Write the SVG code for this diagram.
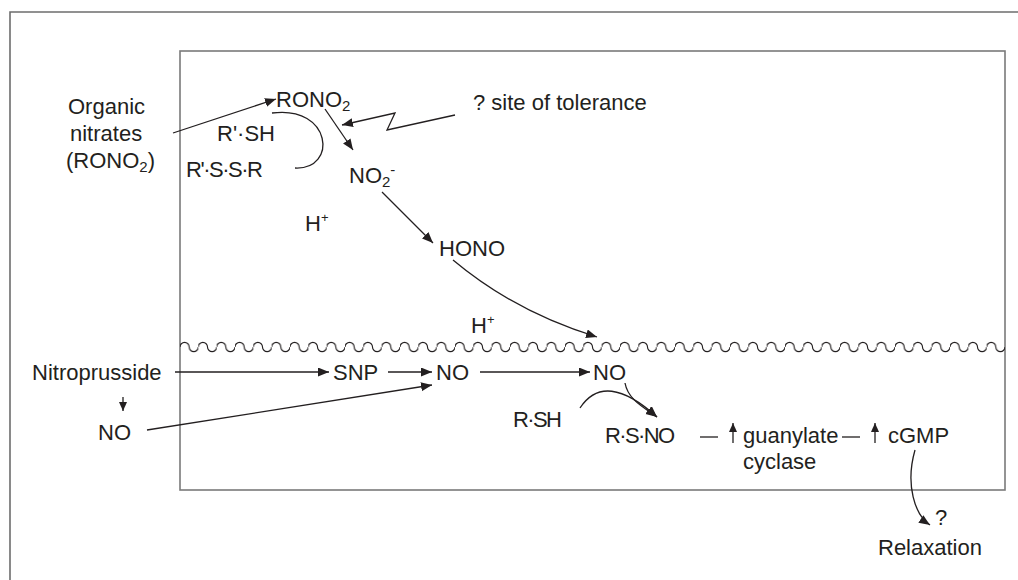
<svg xmlns="http://www.w3.org/2000/svg" width="1018" height="580" viewBox="0 0 1018 580">
<defs>
<style>
text{font-family:"Liberation Sans",Arial,sans-serif;font-size:22px;fill:#231f20}
.ln{fill:none;stroke:#231f20;stroke-width:1.3}
.frame{fill:none;stroke:#6d6d6d;stroke-width:1.6}
.box{fill:none;stroke:#7a7a7a;stroke-width:1.6}
.sub{font-size:15px}
</style>
<pattern id="wave" patternUnits="userSpaceOnUse" x="180" y="340" width="18.3333" height="14">
<path d="M0,7 a4.5833,4.5833 0 0 1 9.1667,0 a4.5833,4.5833 0 0 0 9.1667,0" fill="none" stroke="#231f20" stroke-width="1.1"/>
</pattern>
<marker id="ah" markerUnits="userSpaceOnUse" markerWidth="12" markerHeight="10" refX="11" refY="4.5" orient="auto">
<path d="M0,0 L11,4.5 L0,9 z" fill="#231f20"/>
</marker>
<marker id="sm" markerUnits="userSpaceOnUse" markerWidth="10" markerHeight="10" refX="9" refY="4" orient="auto">
<path d="M0,0 L9,4 L0,8 z" fill="#231f20"/>
</marker>
</defs>
<rect width="1018" height="580" fill="#fff"/>
<g id="frame">
<path class="frame" d="M10,580 V12 H1018"/>
<rect class="box" x="180" y="51" width="825" height="439"/>
<rect id="membrane" x="180" y="340" width="825" height="14" fill="url(#wave)"/>
</g>
<g id="connectors">
<path class="ln" d="M173,133 L276,99" marker-end="url(#ah)"/>
<path class="ln" d="M272,113 C332,105 338,170 295,168"/>
<path class="ln" d="M325,109 L353,150" marker-end="url(#ah)"/>
<path class="ln" d="M455,115 L387,130 L395,113 L342,125" marker-end="url(#ah)"/>
<path class="ln" d="M382,192 L433,243" marker-end="url(#ah)"/>
<path class="ln" d="M453,260 Q515,312 597,337" marker-end="url(#ah)"/>
<path class="ln" d="M175,372 L329,372" marker-end="url(#ah)"/>
<path class="ln" d="M388,372 L432,372" marker-end="url(#ah)"/>
<path class="ln" d="M147,430 L432,385" marker-end="url(#ah)"/>
<path class="ln" d="M480,372 L590,372" marker-end="url(#ah)"/>
<path class="ln" d="M123,397 L123,411" marker-end="url(#sm)"/>
<path class="ln" d="M625,383 C628,400 645,408 657,417" marker-end="url(#ah)"/>
<path class="ln" d="M580,408 Q605,370 657,417" marker-end="url(#ah)"/>
<path class="ln" d="M700,437 L718,437"/>
<path class="ln" d="M733,443 L733,423" marker-end="url(#sm)"/>
<path class="ln" d="M842,437 L860,437"/>
<path class="ln" d="M875,443 L875,423" marker-end="url(#sm)"/>
<path class="ln" d="M915,450 C905,485 915,515 930,525" marker-end="url(#ah)"/>
</g>
<g id="organic-nitrates">
<text x="68" y="114">Organic</text>
<text x="70" y="141">nitrates</text>
<text x="66" y="168">(RONO<tspan class="sub" dy="4">2</tspan><tspan dy="-4">)</tspan></text>
</g>
<g id="rono2"><text x="276" y="107">RONO<tspan class="sub" dy="4">2</tspan></text></g>
<g id="rsh-prime"><text x="217" y="141" textLength="58" lengthAdjust="spacing">R'·SH</text></g>
<g id="rssr"><text x="186" y="177" textLength="77" lengthAdjust="spacing">R'·S·S·R</text></g>
<g id="tolerance"><text x="473" y="110">? site of tolerance</text></g>
<g id="no2"><text x="349" y="183">NO<tspan class="sub" dy="4">2</tspan><tspan class="sub" dy="-12">-</tspan></text></g>
<g id="h-plus-1"><text x="305" y="231">H<tspan font-size="13" dy="-9">+</tspan></text></g>
<g id="hono"><text x="439" y="256">HONO</text></g>
<g id="h-plus-2"><text x="471" y="333">H<tspan font-size="13" dy="-9">+</tspan></text></g>
<g id="nitroprusside"><text x="32" y="380">Nitroprusside</text></g>
<g id="no-left"><text x="98" y="440">NO</text></g>
<g id="snp"><text x="333" y="380">SNP</text></g>
<g id="no-mid"><text x="436" y="380">NO</text></g>
<g id="no-right"><text x="593" y="380">NO</text></g>
<g id="rsh"><text x="513" y="427" textLength="49" lengthAdjust="spacing">R·SH</text></g>
<g id="rsno"><text x="605" y="443" textLength="70" lengthAdjust="spacing">R·S·NO</text></g>
<g id="guanylate"><text x="743" y="443">guanylate</text><text x="743" y="469">cyclase</text></g>
<g id="cgmp"><text x="888" y="443">cGMP</text></g>
<g id="relaxation"><text x="935" y="525">?</text><text x="878" y="555">Relaxation</text></g>
</svg>
